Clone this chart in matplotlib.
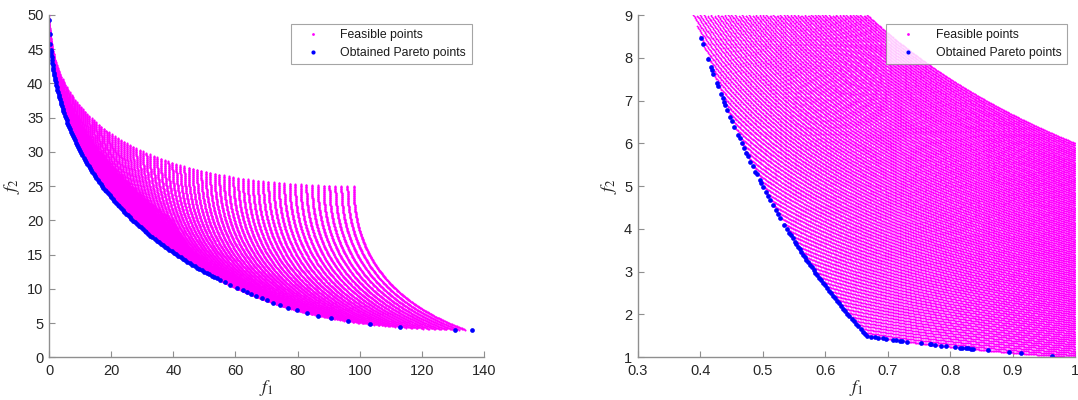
import matplotlib
matplotlib.use("Agg")
import matplotlib.pyplot as plt
import numpy as np

# design grid of the sampled feasible space (BNH problem, left)
bnh_x1_lim = [0.0, 4.95]
bnh_x1_step = 0.05
bnh_x2_lim = [0.0, 2.99]
bnh_x2_step = 0.01

# design grid of the sampled feasible space (CONSTR problem, right)
con_x1_lim = [0.1, 1.0]
con_x1_step = 0.001
con_x2_lim = [0.0, 5.0]
con_x2_step = 0.05

# obtained Pareto points, left
par_l_f1 = [0.013, 0.157, 0.387, 0.541, 0.72, 0.925, 1.155, 1.411, 1.693, 2.0,
            2.333, 2.691, 3.075, 3.485, 3.92, 4.381, 4.867, 5.379, 5.917, 6.48,
            7.069, 7.683, 8.323, 8.989, 9.68, 10.397, 11.139, 11.907, 12.701, 13.52,
            14.365, 15.235, 16.131, 17.053, 18.0, 18.973, 19.971, 20.995, 22.045, 23.12,
            24.221, 25.347, 26.499, 27.677, 28.88, 30.109, 31.363, 32.643, 33.949, 35.28,
            36.637, 38.019, 39.427, 40.861, 42.32, 43.805, 45.315, 46.851, 48.413, 50.0,
            51.613, 53.251, 54.915, 56.6, 58.32, 60.5, 62.27, 63.62, 64.98, 66.59,
            68.45, 70.09, 72.0, 74.3, 76.8, 79.7, 82.9, 86.7, 90.9, 96.3,
            103.3, 112.9, 130.6, 136.0,
            0.627, 0.819, 1.037, 1.28, 1.549, 1.843, 2.163, 2.509, 2.88, 3.277,
            3.699, 4.147, 4.621, 5.12, 5.645, 6.195, 6.771, 7.373, 8.0, 8.653,
            9.331, 10.035, 10.765, 11.52, 12.301, 13.107, 13.939, 14.797, 15.68, 16.589,
            17.523, 18.483, 19.469, 20.48, 21.517, 22.579, 23.667, 24.781, 25.92, 27.085,
            28.275, 29.491, 30.733, 32.0, 33.293, 34.611, 35.955, 37.325, 38.72, 40.141,
            41.587, 43.059, 44.557, 46.08, 47.629, 49.203, 50.803, 52.429, 54.08]
par_l_f2 = [49.20, 47.24, 45.70, 44.94, 44.18, 43.43, 42.69, 41.95, 41.22, 40.5,
            39.78, 39.07, 38.37, 37.67, 36.98, 36.30, 35.62, 34.94, 34.28, 33.62,
            32.97, 32.32, 31.68, 31.05, 30.42, 29.80, 29.18, 28.58, 27.98, 27.38,
            26.79, 26.21, 25.63, 25.06, 24.5, 23.94, 23.39, 22.85, 22.31, 21.78,
            21.26, 20.74, 20.22, 19.72, 19.22, 18.73, 18.24, 17.76, 17.29, 16.82,
            16.36, 15.90, 15.46, 15.02, 14.58, 14.15, 13.73, 13.31, 12.90, 12.5,
            12.10, 11.71, 11.33, 10.95, 10.58, 10.13, 9.77, 9.50, 9.25, 8.95,
            8.61, 8.32, 8.0, 7.63, 7.26, 6.87, 6.48, 6.07, 5.68, 5.25,
            4.81, 4.38, 4.02, 4.0,
            44.56, 43.80, 43.06, 42.32, 41.59, 40.86, 40.14, 39.43, 38.72, 38.02,
            37.32, 36.64, 35.96, 35.28, 34.61, 33.95, 33.29, 32.64, 32.0, 31.36,
            30.73, 30.11, 29.49, 28.88, 28.28, 27.68, 27.08, 26.50, 25.92, 25.35,
            24.78, 24.22, 23.67, 23.12, 22.58, 22.04, 21.52, 21.00, 20.48, 19.97,
            19.47, 18.97, 18.48, 18.0, 17.52, 17.05, 16.59, 16.13, 15.68, 15.24,
            14.80, 14.36, 13.94, 13.52, 13.11, 12.70, 12.30, 11.91, 11.52]

# obtained Pareto points, right
par_r_f1 = [0.4007, 0.4042, 0.4127, 0.4169, 0.4189, 0.4212, 0.4268, 0.4287, 0.4334, 0.4361,
            0.4383, 0.4403, 0.4436, 0.4481, 0.4507, 0.4548, 0.4605, 0.4630, 0.4667, 0.4704,
            0.4736, 0.4762, 0.4804, 0.4841, 0.4881, 0.4902, 0.4950, 0.4975, 0.5004, 0.5047,
            0.5080, 0.5117, 0.5162, 0.5208, 0.5247, 0.5283, 0.5344, 0.5385, 0.5426, 0.5447,
            0.5477, 0.5512, 0.5538, 0.5564, 0.5591, 0.5618, 0.5645, 0.5673, 0.5700, 0.5728,
            0.5757, 0.5785, 0.5814, 0.5843, 0.5872, 0.5902, 0.5932, 0.5963, 0.5993, 0.6024,
            0.6055, 0.6087, 0.6119, 0.6151, 0.6184, 0.6217, 0.6250, 0.6284, 0.6318, 0.6352,
            0.6387, 0.6422, 0.6458, 0.6494, 0.6530, 0.6567, 0.6604, 0.6641, 0.6667,
            0.674, 0.680, 0.685, 0.693, 0.697, 0.709, 0.714, 0.719, 0.723, 0.731,
            0.753, 0.767, 0.769, 0.776, 0.785, 0.794, 0.808, 0.815, 0.819, 0.825,
            0.829, 0.833, 0.837, 0.861, 0.895, 0.914, 0.963]
par_r_f2 = [8.47, 8.32, 7.96, 7.79, 7.71, 7.62, 7.40, 7.33, 7.15, 7.05,
            6.97, 6.90, 6.78, 6.62, 6.53, 6.39, 6.20, 6.12, 6.00, 5.88,
            5.78, 5.70, 5.57, 5.46, 5.34, 5.28, 5.14, 5.07, 4.99, 4.87,
            4.78, 4.68, 4.56, 4.44, 4.34, 4.25, 4.10, 4.00, 3.90, 3.85,
            3.78, 3.70, 3.64, 3.58, 3.52, 3.46, 3.40, 3.34, 3.28, 3.22,
            3.16, 3.10, 3.04, 2.98, 2.92, 2.86, 2.80, 2.74, 2.68, 2.62,
            2.56, 2.50, 2.44, 2.38, 2.32, 2.26, 2.20, 2.14, 2.08, 2.02,
            1.96, 1.90, 1.84, 1.78, 1.72, 1.66, 1.60, 1.54, 1.50,
            1.484, 1.471, 1.460, 1.443, 1.435, 1.410, 1.401, 1.391, 1.383, 1.368,
            1.328, 1.304, 1.300, 1.289, 1.274, 1.259, 1.238, 1.227, 1.221, 1.212,
            1.206, 1.200, 1.195, 1.161, 1.117, 1.094, 1.038]

left_xticks = [0, 20, 40, 60, 80, 100, 120, 140]
left_yticks = [0, 5, 10, 15, 20, 25, 30, 35, 40, 45, 50]
right_xticks = [0.3, 0.4, 0.5, 0.6, 0.7, 0.8, 0.9, 1.0]
right_xlabels = ["0.3", "0.4", "0.5", "0.6", "0.7", "0.8", "0.9", "1"]
right_yticks = [1, 2, 3, 4, 5, 6, 7, 8, 9]

plt.rcParams['font.family'] = ['Liberation Sans', 'DejaVu Sans']
plt.rcParams['mathtext.fontset'] = 'stix'


def bnh_feasible():
	x1 = np.arange(bnh_x1_lim[0], bnh_x1_lim[1] + 1e-9, bnh_x1_step)
	x2 = np.arange(bnh_x2_lim[0], bnh_x2_lim[1] + 1e-9, bnh_x2_step)
	X1, X2 = np.meshgrid(x1, x2)
	ok = ((X1 - 5)**2 + X2**2 <= 25) & ((X1 - 8)**2 + (X2 + 3)**2 >= 7.7)
	f1 = 4*X1**2 + 4*X2**2
	f2 = (X1 - 5)**2 + (X2 - 5)**2
	return f1[ok], f2[ok]


def constr_feasible():
	x1 = np.arange(con_x1_lim[0], con_x1_lim[1] + 1e-9, con_x1_step)
	x2 = np.arange(con_x2_lim[0], con_x2_lim[1] + 1e-9, con_x2_step)
	X1, X2 = np.meshgrid(x1, x2)
	ok = (X2 + 9*X1 >= 6) & (-X2 + 9*X1 >= 1)
	f1 = X1
	f2 = (1 + X2)/X1
	return f1[ok], f2[ok]


def style_axes(ax):
	for s in ['top', 'right']:
		ax.spines[s].set_visible(False)
	for s in ['left', 'bottom']:
		ax.spines[s].set_color('#8f8f8f')
		ax.spines[s].set_linewidth(1.0)
	ax.tick_params(direction='in', length=4, color='#8f8f8f', labelcolor='#262626',
				   labelsize=10.5)
	ax.tick_params(axis='x', pad=5)
	ax.tick_params(axis='y', pad=4)
	ax.set_xlabel('$f_1$', fontsize=13, color='#262626', labelpad=0)
	ax.set_ylabel('$f_2$', fontsize=13, color='#262626', labelpad=4)


def draw(ax, ff1, ff2, pf1, pf2, ms):
	ax.plot(ff1, ff2, linestyle='none', marker='o', markersize=ms,
			markeredgewidth=0, color='#ff00ff', label='Feasible points')
	ax.plot(pf1, pf2, linestyle='none', marker='o', markersize=3.4,
			markeredgewidth=0, color='#0000ff', label='Obtained Pareto points')
	leg = ax.legend(loc='upper right', fontsize=8.8, frameon=True, fancybox=False,
					edgecolor='#8f8f8f', handlelength=2.7, handletextpad=0.9,
					borderpad=0.45, labelspacing=0.45, markerscale=1.0,
					borderaxespad=0.3)
	leg.get_frame().set_linewidth(0.8)
	leg.legend_handles[0].set_markersize(2.0)
	leg.legend_handles[1].set_markersize(3.0)
	for t in leg.get_texts():
		t.set_color('#1a1a1a')


fig = plt.figure(figsize=(10.78, 4.0), dpi=100)

ax1 = fig.add_axes([0.0455, 0.1068, 0.4035, 0.8557])
f1, f2 = bnh_feasible()
draw(ax1, f1, f2, par_l_f1, par_l_f2, 1.5)
ax1.set_xlim(0, 140)
ax1.set_ylim(0, 50)
ax1.set_xticks(left_xticks)
ax1.set_yticks(left_yticks)
style_axes(ax1)
ax1.legend_.set_bbox_to_anchor((0.98, 0.985))

ax2 = fig.add_axes([0.5916, 0.1068, 0.4057, 0.8557])
f1, f2 = constr_feasible()
draw(ax2, f1, f2, par_r_f1, par_r_f2, 1.25)
ax2.set_xlim(0.3, 1.0)
ax2.set_ylim(1, 9)
ax2.set_xticks(right_xticks)
ax2.set_xticklabels(right_xlabels)
ax2.set_yticks(right_yticks)
style_axes(ax2)
ax2.legend_.set_bbox_to_anchor((0.99, 0.985))

fig.savefig('out.png', dpi=100)
